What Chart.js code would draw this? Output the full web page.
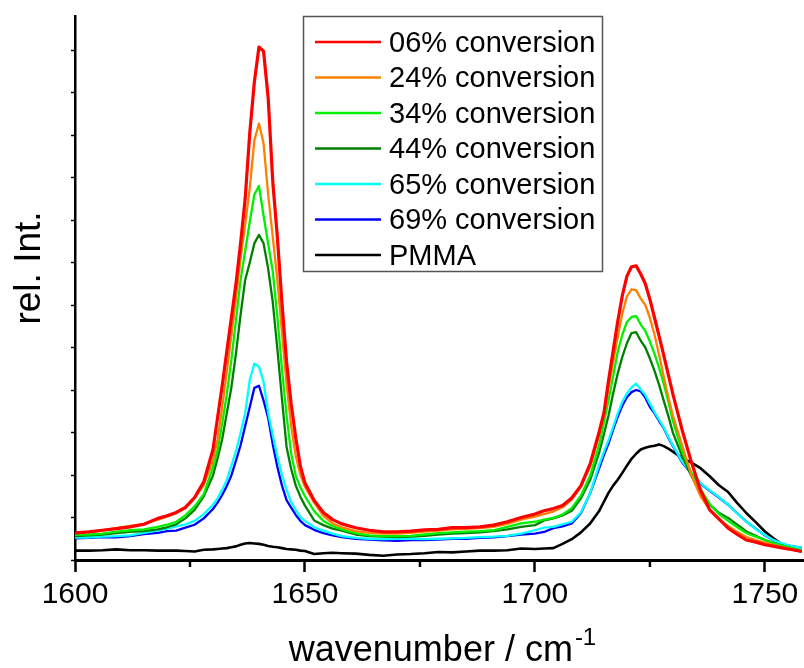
<!DOCTYPE html>
<html>
<head>
<meta charset="utf-8">
<script src="https://cdn.jsdelivr.net/npm/chart.js@4.4.1/dist/chart.umd.min.js"></script>
<style>
  html, body { margin: 0; padding: 0; background: #fff; }
  canvas { display: block; }
</style>
</head>
<body>
<canvas id="ramanChart" width="804" height="668"></canvas>
<script>
/* ── data ── */
const WAVENUMBER = [
  1600,1603,1606,1609,1612,1615,1618,1620,1622,1624,1626,1628,
  1630,1631,1632,1633,1634,1635,1636,1637,1638,1639,1640,1641,1642,1643,1644,1645,1646,1647,1648,1649,1650,
  1652,1654,1656,1658,
  1661,1664,1667,1670,1673,1676,1679,1682,1685,1688,1691,1694,1697,1700,
  1702,1704,1706,1708,1710,1712,1714,
  1715,1716,1717,1718,1719,1720,1721,1722,1723,1724,1725,1726,1727,1728,1729,1730,
  1732,1734,1736,1738,1740,1742,1744,1746,1748,1750,1752,1754,1756,1758
];

const CONV_06 = [
  0.64,0.66,0.70,0.74,0.78,0.84,0.98,1.04,1.12,1.24,1.47,1.84,
  2.60,3.35,4.10,4.90,5.70,6.50,7.45,8.50,10.05,11.25,12.07,11.97,10.87,8.90,7.60,6.04,4.66,3.67,2.87,2.21,1.81,
  1.40,1.12,0.95,0.85,
  0.76,0.70,0.66,0.66,0.68,0.71,0.72,0.76,0.76,0.78,0.82,0.90,1.00,1.08,
  1.16,1.21,1.28,1.46,1.75,2.26,3.03,
  3.46,4.22,4.92,5.61,6.22,6.68,6.90,6.92,6.73,6.50,6.13,5.70,5.27,4.82,4.36,3.90,
  3.06,2.31,1.64,1.18,0.97,0.75,0.60,0.47,0.42,0.36,0.32,0.28,0.24,0.20
];
const CONV_24 = [
  0.63,0.66,0.70,0.75,0.80,0.85,0.95,1.02,1.10,1.22,1.45,1.76,
  2.35,2.83,3.60,4.41,5.28,6.16,7.10,7.90,8.75,9.88,10.27,9.80,8.60,7.60,6.59,5.35,4.14,3.15,2.45,2.00,1.72,
  1.35,1.04,0.86,0.77,
  0.68,0.64,0.62,0.62,0.64,0.67,0.69,0.72,0.73,0.75,0.78,0.85,0.95,1.02,
  1.08,1.14,1.24,1.42,1.72,2.20,2.95,
  3.40,4.05,4.65,5.25,5.80,6.20,6.37,6.35,6.15,6.00,5.69,5.30,4.83,4.31,3.83,3.40,
  2.70,2.00,1.50,1.18,0.95,0.80,0.66,0.54,0.47,0.41,0.35,0.30,0.25,0.20
];
const CONV_34 = [
  0.59,0.60,0.62,0.67,0.70,0.72,0.78,0.83,0.90,1.05,1.26,1.55,
  2.19,2.58,3.21,3.90,4.71,5.65,6.59,7.27,7.96,8.60,8.80,8.10,7.44,6.79,5.72,4.49,3.40,2.50,1.98,1.71,1.50,
  1.15,0.92,0.80,0.72,
  0.63,0.58,0.56,0.56,0.57,0.60,0.63,0.65,0.67,0.68,0.70,0.78,0.86,0.90,
  0.95,0.99,1.07,1.22,1.52,1.98,2.73,
  3.23,3.76,4.32,4.90,5.30,5.60,5.72,5.74,5.54,5.39,5.14,4.85,4.52,4.14,3.73,3.27,
  2.56,2.06,1.67,1.32,1.08,0.92,0.77,0.63,0.55,0.47,0.40,0.33,0.28,0.22
];
const CONV_44 = [
  0.56,0.58,0.60,0.63,0.66,0.68,0.72,0.77,0.84,0.98,1.18,1.50,
  1.99,2.39,2.84,3.45,4.06,4.86,5.77,6.59,7.00,7.45,7.65,7.45,6.85,6.07,4.96,3.79,2.66,2.14,1.75,1.49,1.28,
  0.93,0.82,0.74,0.69,
  0.60,0.56,0.55,0.54,0.55,0.57,0.60,0.62,0.63,0.65,0.68,0.72,0.78,0.82,
  0.93,0.98,1.05,1.16,1.45,1.88,2.54,
  2.96,3.40,3.92,4.39,4.78,5.10,5.34,5.36,5.16,5.00,4.74,4.45,4.12,3.75,3.39,2.99,
  2.45,1.98,1.60,1.30,1.11,0.99,0.83,0.67,0.57,0.47,0.39,0.33,0.27,0.22
];
const CONV_65 = [
  0.53,0.53,0.55,0.56,0.58,0.64,0.70,0.74,0.79,0.84,0.92,1.08,
  1.30,1.45,1.65,1.88,2.22,2.56,2.99,3.46,4.24,4.62,4.55,4.19,3.46,2.93,2.44,2.00,1.65,1.36,1.18,1.01,0.92,
  0.77,0.69,0.62,0.56,
  0.52,0.50,0.49,0.50,0.50,0.49,0.50,0.51,0.52,0.54,0.55,0.57,0.62,0.70,
  0.76,0.78,0.84,0.90,1.12,1.57,2.25,
  2.55,2.82,3.13,3.45,3.72,3.92,4.06,4.15,4.01,3.88,3.68,3.48,3.30,3.12,2.90,2.69,
  2.32,2.04,1.81,1.64,1.48,1.30,1.09,0.90,0.73,0.59,0.46,0.38,0.32,0.29
];
const CONV_69 = [
  0.51,0.52,0.54,0.53,0.56,0.61,0.64,0.68,0.69,0.76,0.83,0.98,
  1.20,1.35,1.53,1.74,1.99,2.34,2.70,3.15,3.60,4.05,4.10,3.75,3.34,2.72,2.19,1.75,1.41,1.23,1.06,0.92,0.82,
  0.71,0.63,0.58,0.54,
  0.50,0.48,0.46,0.45,0.47,0.47,0.48,0.50,0.50,0.52,0.53,0.56,0.60,0.62,
  0.66,0.75,0.79,0.86,1.10,1.57,2.17,
  2.47,2.74,3.07,3.37,3.63,3.83,3.95,4.00,3.97,3.82,3.60,3.45,3.27,3.10,2.88,2.68,
  2.30,2.03,1.80,1.63,1.47,1.30,1.10,0.90,0.74,0.58,0.45,0.37,0.32,0.29
];
const PMMA = [
  0.22,0.22,0.23,0.25,0.23,0.23,0.22,0.22,0.22,0.21,0.20,0.24,
  0.25,0.26,0.27,0.28,0.30,0.32,0.36,0.39,0.40,0.39,0.38,0.36,0.33,0.31,0.30,0.28,0.26,0.25,0.24,0.22,0.21,
  0.14,0.16,0.17,0.16,
  0.15,0.12,0.10,0.13,0.14,0.16,0.19,0.18,0.20,0.22,0.22,0.23,0.27,0.26,
  0.27,0.28,0.38,0.49,0.65,0.86,1.16,
  1.37,1.58,1.75,1.89,2.05,2.22,2.38,2.50,2.60,2.64,2.67,2.69,2.72,2.68,2.62,2.55,
  2.40,2.29,2.16,1.97,1.76,1.60,1.34,1.10,0.89,0.67,0.50,0.35,0.25,0.20
];

const SERIES_LABELS = ['06% conversion','24% conversion','34% conversion','44% conversion','65% conversion','69% conversion','PMMA'];
const SERIES_COLORS = ['#ff0000','#ff8000','#00f000','#008000','#00ffff','#0000ff','#000000'];
const SERIES_VALUES = [CONV_06, CONV_24, CONV_34, CONV_44, CONV_65, CONV_69, PMMA];

const X_MIN = 1600, X_MAX = 1758.5, X_STEP = 50;
const X_MINOR_TICKS = [1625, 1675, 1725];
const Y_MAX = 12.8;

const FONT = '"Liberation Sans", Arial, sans-serif';

/* ── minor ticks + axis titles ── */
const axisExtras = {
  id: 'axisExtras',
  afterDraw(chart) {
    const { ctx, chartArea, scales: { x } } = chart;
    ctx.save();
    ctx.strokeStyle = '#000';
    ctx.lineWidth = 2.5;
    X_MINOR_TICKS.forEach(v => {
      const px = x.getPixelForValue(v);
      ctx.beginPath();
      ctx.moveTo(px, chartArea.bottom);
      ctx.lineTo(px, chartArea.bottom + 7);
      ctx.stroke();
    });

    // x title with superscript
    ctx.fillStyle = '#000';
    ctx.textBaseline = 'alphabetic';
    ctx.font = '36px ' + FONT;
    const main = 'wavenumber / cm';
    const wMain = ctx.measureText(main).width;
    ctx.font = '24px ' + FONT;
    const sup = '-1';
    const wSup = ctx.measureText(sup).width;
    const cx = (chartArea.left + chartArea.right) / 2 + 3;
    const x0 = cx - (wMain + wSup + 2) / 2;
    ctx.font = '36px ' + FONT;
    ctx.fillText(main, x0, 661);
    ctx.font = '24px ' + FONT;
    ctx.fillText(sup, x0 + wMain + 2, 645);

    // y title
    ctx.save();
    ctx.translate(40, 268);
    ctx.rotate(-Math.PI / 2);
    ctx.font = '37px ' + FONT;
    ctx.textAlign = 'center';
    ctx.fillText('rel. Int.', 0, 0);
    ctx.restore();
    ctx.restore();
  }
};

/* ── boxed legend inside the plot ── */
const boxLegend = {
  id: 'boxLegend',
  afterDraw(chart) {
    const { ctx } = chart;
    const left = 303.5, top = 16.5, w = 299, h = 255;
    ctx.save();
    ctx.fillStyle = '#fff';
    ctx.fillRect(left, top, w, h);
    ctx.strokeStyle = '#555';
    ctx.lineWidth = 1.5;
    ctx.strokeRect(left, top, w, h);
    ctx.font = '29px ' + FONT;
    ctx.textBaseline = 'middle';
    chart.data.datasets.forEach((ds, i) => {
      const yy = 42 + i * 35.5;
      ctx.strokeStyle = ds.borderColor;
      ctx.lineWidth = 2.5;
      ctx.beginPath();
      ctx.moveTo(315, yy);
      ctx.lineTo(381, yy);
      ctx.stroke();
      ctx.fillStyle = '#000';
      ctx.fillText(ds.label, 389, yy + 1.5);
    });
    ctx.restore();
  }
};

const datasets = SERIES_LABELS.map((label, i) => ({
  label,
  data: WAVENUMBER.map((wn, j) => ({ x: wn, y: SERIES_VALUES[i][j] })),
  borderColor: SERIES_COLORS[i],
  backgroundColor: SERIES_COLORS[i],
  borderWidth: i === 0 ? 3.2 : (i === 6 ? 2.6 : 2.3),
  pointRadius: 0,
  tension: 0,
  borderJoinStyle: 'round',
  fill: false,
}));

new Chart(document.getElementById('ramanChart'), {
  type: 'line',
  data: { datasets },
  options: {
    responsive: false,
    animation: false,
    devicePixelRatio: 1,
    layout: { padding: { top: 16, right: 0, bottom: 0, left: 0 } },
    plugins: {
      legend: { display: false },
      tooltip: { enabled: false },
    },
    scales: {
      x: {
        type: 'linear',
        position: 'bottom',
        min: X_MIN,
        max: X_MAX,
        afterFit: s => { s.height = 108; },
        ticks: {
          stepSize: X_STEP,
          includeBounds: false,
          color: '#000',
          font: { family: FONT, size: 30 },
          padding: 5,
          maxRotation: 0,
          callback: v => String(v),
        },
        grid: { drawOnChartArea: false, tickLength: 12, tickWidth: 2.5, tickColor: '#000' },
        border: { color: '#000', width: 3 },
      },
      y: {
        min: 0,
        max: Y_MAX,
        afterFit: s => { s.width = 75; },
        ticks: { stepSize: 1, includeBounds: false, display: false },
        grid: { drawOnChartArea: false, tickLength: 4, tickWidth: 1.5, tickColor: '#000' },
        border: { color: '#000', width: 2.5 },
      }
    }
  },
  plugins: [axisExtras, boxLegend]
});
</script>
</body>
</html>
